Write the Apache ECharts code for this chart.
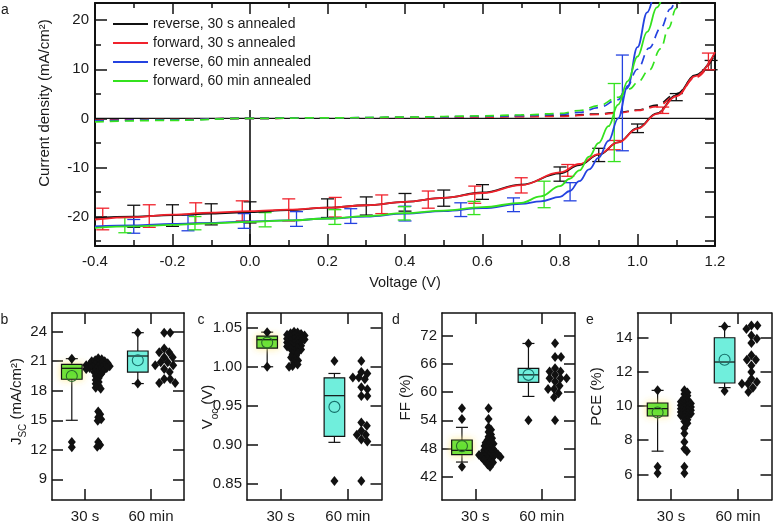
<!DOCTYPE html>
<html><head><meta charset="utf-8">
<script src="https://cdn.jsdelivr.net/npm/echarts@6/dist/echarts.min.js"></script>
<style>html,body{margin:0;padding:0;background:#fff}#c{width:773px;height:524px}</style>
</head><body><div id="c"></div>
<script>
// ---------- Panel a: J-V curves ----------
const SERIES_NAMES = ['reverse, 30 s annealed','forward, 30 s annealed','reverse, 60 min annealed','forward, 60 min annealed'];
const V_30 = [-0.4,-0.3,-0.2,-0.1,0,0.1,0.2,0.3,0.4,0.5,0.6,0.7,0.8,0.85,0.9,0.95,1.0,1.05,1.1,1.15,1.2];
const J_REV30 = [-20.3,-20.0,-19.7,-19.4,-19.1,-18.7,-18.2,-17.7,-17.0,-16.2,-15.1,-13.5,-11.2,-9.5,-7.4,-4.9,-2.0,1.0,4.7,8.8,13.3];
const J_FWD30 = [-20.6,-20.1,-19.6,-19.2,-18.9,-18.6,-18.2,-17.7,-17.0,-16.2,-15.2,-13.6,-11.0,-9.3,-7.3,-4.9,-2.1,0.9,4.5,8.6,13.5];
const V_REV60 = [-0.4,-0.3,-0.2,-0.1,0,0.1,0.2,0.3,0.4,0.5,0.6,0.7,0.75,0.8,0.825,0.85,0.875,0.9,0.925,0.95,0.975,1.0,1.025,1.045];
const J_REV60 = [-22.0,-21.8,-21.5,-21.3,-21.0,-20.8,-20.4,-20.0,-19.4,-18.9,-18.3,-17.4,-16.9,-16.0,-14.8,-12.8,-10.4,-8.0,-4.6,0.0,6.6,14.5,21.6,27];
const V_FWD60 = [-0.4,-0.3,-0.2,-0.1,0,0.1,0.2,0.3,0.4,0.5,0.6,0.7,0.75,0.8,0.825,0.85,0.875,0.9,0.925,0.95,0.975,1.0,1.025,1.05,1.07];
const J_FWD60 = [-22.3,-22.0,-21.7,-21.4,-21.1,-20.8,-20.4,-19.9,-19.3,-18.8,-18.1,-17.2,-15.9,-13.8,-12.3,-10.6,-7.8,-5.0,-1.6,2.8,7.6,12.6,17.6,22.6,26.6];
// dark (dashed) curves
const VD_30 = [-0.4,-0.2,0,0.2,0.4,0.6,0.7,0.8,0.9,0.95,1.0,1.05,1.1,1.15,1.2];
const JD_REV30 = [-0.3,-0.2,0,0.05,0.15,0.3,0.4,0.5,0.9,1.2,1.7,2.7,5.0,8.5,13.0];
const JD_FWD30 = [-0.4,-0.25,0,0.05,0.15,0.25,0.35,0.4,0.8,1.1,1.6,2.4,4.6,8.3,13.2];
const VD_REV60 = [-0.4,-0.2,0,0.2,0.4,0.6,0.7,0.8,0.85,0.9,0.95,0.97,1.0,1.03,1.06,1.085,1.1];
const JD_REV60 = [-0.5,-0.3,0,0.1,0.2,0.4,0.55,0.8,1.2,2.2,3.8,6.0,10.0,14.3,18.4,22.3,25.0];
const VD_FWD60 = [-0.4,-0.2,0,0.2,0.4,0.6,0.7,0.8,0.85,0.9,0.95,0.98,1.0,1.03,1.06,1.08,1.1,1.12,1.13];
const JD_FWD60 = [-0.7,-0.4,0,0.1,0.25,0.5,0.7,1.0,1.6,2.6,4.3,6.0,7.3,9.8,14.2,18.4,22.4,25.8,27.5];
// error bars
const ERR_REV30_V = [-0.3,-0.2,-0.1,0,0.2,0.3,0.4,0.5,0.6,0.8,0.9,1.0,1.1,1.19];
const ERR_REV30_LO = [-22.2,-22.0,-21.7,-21.3,-20.2,-19.7,-18.9,-17.9,-16.5,-12.8,-8.8,-2.9,3.6,9.9];
const ERR_REV30_HI = [-17.7,-17.6,-17.4,-17.0,-16.4,-16.0,-15.3,-14.6,-13.5,-9.9,-6.1,-1.15,5.05,11.8];
const ERR_FWD30_V = [-0.38,-0.26,-0.14,-0.02,0.10,0.22,0.34,0.46,0.58,0.70,0.82,0.94,1.065,1.183];
const ERR_FWD30_LO = [-22.7,-22.2,-21.4,-20.9,-20.9,-20.1,-19.4,-18.3,-17.3,-15.2,-11.8,-6.4,1.0,9.9];
const ERR_FWD30_HI = [-18.3,-17.6,-17.2,-16.8,-16.4,-16.1,-15.6,-14.8,-13.8,-12.1,-9.4,-4.5,2.3,13.3];
const ERR_REV60_V = [-0.30,-0.16,-0.015,0.12,0.26,0.40,0.544,0.68,0.826,0.961];
const ERR_REV60_LO = [-23.4,-22.9,-22.4,-22.0,-21.4,-20.9,-20.0,-19.0,-16.8,-6.6];
const ERR_REV60_HI = [-20.6,-19.7,-19.4,-19.0,-18.4,-17.9,-17.2,-16.2,-13.1,12.9];
const ERR_FWD60_V = [-0.323,-0.142,0.039,0.219,0.398,0.578,0.759,0.94];
const ERR_FWD60_LO = [-23.3,-22.7,-22.1,-21.6,-20.7,-19.6,-18.2,-8.8];
const ERR_FWD60_HI = [-20.2,-20.0,-19.2,-18.6,-18.0,-16.9,-12.8,7.1];
// reference lines
const ZERO_J = 0;
const ZERO_V = 0;
const ZERO_V_TOP = 1.7;
const A_X_MIN = -0.4, A_X_MAX = 1.2, A_Y_MIN = -26, A_Y_MAX = 23.5;
const A_Y_LABELS = [-20,-10,0,10,20];
const A_Y_MINOR = [-25,-15,-5,5,15];
const A_Y_RIGHT = [-25,-20,-15,-10,-5,0,5,10,15,20];

// ---------- Panels b-e: statistics ----------
const CATEGORIES = ['30 s','60 min'];
const JSC_TICKS = [9,12,15,18,21,24];
const JSC_BOX_30 = [15.0,19.17,20.28,20.69,21.26], JSC_MEAN_30 = 19.5, JSC_MARK_30 = [21.26,12.8,12.25];
const JSC_BOX_60 = [18.73,19.9,21.53,22.04,23.9], JSC_MEAN_60 = 21.1, JSC_MARK_60 = [23.9,18.73];
const JSC_PTS_30 = [21.3,21.2,21.1,21.0,21.0,20.9,20.8,20.8,20.7,20.7,20.6,20.6,20.5,20.5,20.4,20.4,20.3,20.3,20.2,20.2,20.1,20.0,19.9,19.8,19.7,19.5,19.3,19.1,18.9,18.7,18.5,18.3,18.2,15.9,15.6,15.3,15.1,14.95,12.8,12.5,12.3];
const JSC_PTS_60 = [23.9,23.9,22.3,21.9,21.9,21.4,21.4,20.9,20.9,20.6,20.6,20.2,19.9,19.2,19.2,18.8,18.8];
const VOC_TICKS = [0.85,0.90,0.95,1.00,1.05];
const VOC_BOX_30 = [1.000,1.024,1.0347,1.0393,1.0444], VOC_MEAN_30 = 1.031, VOC_MARK_30 = [1.0444,1.000];
const VOC_BOX_60 = [0.903,0.9107,0.9629,0.9858,0.9914], VOC_MEAN_60 = 0.9485, VOC_MARK_60 = [1.0075,0.8533];
const VOC_PTS_30 = [1.045,1.044,1.043,1.042,1.041,1.040,1.040,1.039,1.038,1.037,1.036,1.035,1.035,1.034,1.033,1.032,1.031,1.030,1.029,1.028,1.027,1.026,1.025,1.024,1.023,1.022,1.020,1.018,1.016,1.014,1.012,1.010,1.008,1.005,1.003,1.001,1.000];
const VOC_PTS_60 = [1.0075,0.9934,0.9913,0.9863,0.9863,0.984,0.9736,0.971,0.9625,0.9625,0.9285,0.9243,0.918,0.9128,0.9128,0.9065,0.904,0.8533];
const FF_TICKS = [42,48,54,60,66,72];
const FF_BOX_30 = [45.1,46.7,47.6,49.8,52.5], FF_MEAN_30 = 48.5, FF_MARK_30 = [56.6,54.3,44.1];
const FF_BOX_60 = [59.1,62.1,63.7,65.1,70.4], FF_MEAN_60 = 63.7, FF_MARK_60 = [70.4,54.0];
const FF_PTS_30 = [56.6,54.3,52.5,52.0,51.5,51.0,50.5,50.2,49.8,49.5,49.2,49.0,48.8,48.5,48.2,48.0,47.8,47.6,47.4,47.2,47.0,46.9,46.8,46.7,46.6,46.5,46.4,46.3,46.2,46.1,46.0,45.8,45.5,45.2,45.0,44.6,44.1];
const FF_PTS_60 = [70.45,67.5,67.5,65.1,64.4,64.4,63.7,63.0,63.0,63.0,62.3,61.4,60.7,60.7,59.8,58.9,54.0];
const PCE_TICKS = [6,8,10,12,14];
const PCE_BOX_30 = [7.36,9.42,9.85,10.18,10.92], PCE_MEAN_30 = 9.62, PCE_MARK_30 = [10.92,6.45,6.06];
const PCE_BOX_60 = [11.08,11.35,12.58,14.0,14.66], PCE_MEAN_60 = 12.71, PCE_MARK_60 = [14.66,10.88];
const PCE_PTS_30 = [10.92,10.8,10.7,10.6,10.5,10.4,10.3,10.25,10.2,10.15,10.1,10.05,10.0,9.95,9.9,9.85,9.8,9.75,9.7,9.65,9.6,9.55,9.5,9.45,9.4,9.3,9.2,9.1,9.0,8.7,8.4,7.9,7.5,7.36,6.45,6.06];
const PCE_PTS_60 = [14.72,14.72,14.52,14.13,13.94,13.69,12.97,12.71,12.71,12.38,11.99,11.6,11.41,11.31,11.31,11.08,10.82];

// ---------- layout / style ----------
const FONT = '"Liberation Sans", Arial, Helvetica, sans-serif';
const COLORS = ['#111111','#f0222c','#2442e0','#34e21e'];
const BOX_FILL = ['#5fe030','#70eedc'];
const MEAN_STROKE = ['#2a6a2a','#16706a'];
const TXT = '#1a1a1a';
const POS_CAT = [1,2], BOX_SHIFT = -0.2, PTS_SHIFT = 0.2;

const panels = [
  {grid:{left:52,top:313,width:132,height:188}, min:6.9, max:25.9, ticks:JSC_TICKS, dec:0,
   box:[JSC_BOX_30,JSC_BOX_60], mean:[JSC_MEAN_30,JSC_MEAN_60], mark:[JSC_MARK_30,JSC_MARK_60], pts:[JSC_PTS_30,JSC_PTS_60]},
  {grid:{left:247,top:313,width:134.5,height:188}, min:0.829, max:1.069, ticks:VOC_TICKS, dec:2,
   box:[VOC_BOX_30,VOC_BOX_60], mean:[VOC_MEAN_30,VOC_MEAN_60], mark:[VOC_MARK_30,VOC_MARK_60], pts:[VOC_PTS_30,VOC_PTS_60]},
  {grid:{left:442,top:313,width:133,height:188}, min:37, max:76.9, ticks:FF_TICKS, dec:0,
   box:[FF_BOX_30,FF_BOX_60], mean:[FF_MEAN_30,FF_MEAN_60], mark:[FF_MARK_30,FF_MARK_60], pts:[FF_PTS_30,FF_PTS_60]},
  {grid:{left:637.5,top:313,width:134,height:187.5}, min:4.5, max:15.45, ticks:PCE_TICKS, dec:0,
   box:[PCE_BOX_30,PCE_BOX_60], mean:[PCE_MEAN_30,PCE_MEAN_60], mark:[PCE_MARK_30,PCE_MARK_60], pts:[PCE_PTS_30,PCE_PTS_60]}
];

function swarm(values, center, yMin, yMax, hPx, wPx, dPx) {
  const py = hPx / (yMax - yMin), pxPerUnit = wPx / 2;
  const placed = [];
  return values.map(v => {
    const y = v * py;
    let off = 0;
    for (let k = 0; k < 400; k++) {
      const o = (k % 2 === 1 ? 1 : -1) * Math.ceil(k / 2) * 0.5;
      if (placed.every(p => (p.x - o) ** 2 + (p.y - y) ** 2 >= dPx * dPx)) { off = o; break; }
    }
    placed.push({x: off, y});
    return [center + off / pxPerUnit, v];
  });
}

const zipErr = (v, lo, hi) => v.map((x, i) => [x, lo[i], hi[i]]);
const zipXY = (x, y) => x.map((v, i) => [v, y[i]]);

function errRender(color) {
  return function (params, api) {
    const x = api.value(0);
    const p1 = api.coord([x, api.value(1)]), p2 = api.coord([x, api.value(2)]);
    const w = 6.5, st = {stroke: color, lineWidth: 1.3};
    return {type: 'group', children: [
      {type: 'line', shape: {x1: p1[0], y1: p1[1], x2: p2[0], y2: p2[1]}, style: st},
      {type: 'line', shape: {x1: p1[0] - w, y1: p1[1], x2: p1[0] + w, y2: p1[1]}, style: st},
      {type: 'line', shape: {x1: p2[0] - w, y1: p2[1], x2: p2[0] + w, y2: p2[1]}, style: st}
    ]};
  };
}

function boxRender(params, api) {
  const x = api.value(0);
  const pts = [1, 2, 3, 4, 5].map(i => api.coord([x, api.value(i)]));
  const cx = pts[0][0], hw = 10.3, cw = 6;
  const i = params.dataIndex;
  const st = {stroke: '#111', lineWidth: 1.2};
  const rectStyle = {fill: BOX_FILL[i], stroke: '#111', lineWidth: 1.2};
  if (i === 0) { rectStyle.shadowBlur = 7; rectStyle.shadowColor = 'rgba(255,236,140,0.9)'; }
  return {type: 'group', children: [
    {type: 'line', shape: {x1: cx, y1: pts[0][1], x2: cx, y2: pts[1][1]}, style: st},
    {type: 'line', shape: {x1: cx, y1: pts[3][1], x2: cx, y2: pts[4][1]}, style: st},
    {type: 'line', shape: {x1: cx - cw, y1: pts[0][1], x2: cx + cw, y2: pts[0][1]}, style: st},
    {type: 'line', shape: {x1: cx - cw, y1: pts[4][1], x2: cx + cw, y2: pts[4][1]}, style: st},
    {type: 'rect', shape: {x: cx - hw, y: pts[3][1], width: 2 * hw, height: pts[1][1] - pts[3][1]}, style: rectStyle},
    {type: 'line', shape: {x1: cx - hw, y1: pts[2][1], x2: cx + hw, y2: pts[2][1]}, style: st}
  ]};
}

const fmt1 = v => (Math.abs(v) < 1e-9 ? '0.0' : v.toFixed(1));
const lbl = {color: TXT, fontFamily: FONT, fontSize: 15};
const nameLbl = {color: TXT, fontFamily: FONT, fontSize: 14.5};

const grids = [{left: 95, top: 3, width: 620, height: 243}].concat(panels.map(p => p.grid));
const xAxes = [], yAxes = [], series = [];

// panel a axes
const frameA = {onZero: false, lineStyle: {color: '#111', width: 2}};
xAxes.push({gridIndex: 0, type: 'value', min: A_X_MIN, max: A_X_MAX, interval: 0.2, position: 'bottom',
  axisLine: frameA, axisTick: {inside: true, length: 12, lineStyle: {color: '#111', width: 1.5}},
  minorTick: {show: true, splitNumber: 2, length: 6, lineStyle: {color: '#111', width: 1.5}},
  axisLabel: Object.assign({formatter: fmt1, margin: 8}, lbl), splitLine: {show: false},
  name: 'Voltage (V)', nameLocation: 'middle', nameGap: 29, nameTextStyle: nameLbl});
xAxes.push({gridIndex: 0, type: 'value', min: A_X_MIN, max: A_X_MAX, interval: 0.2, position: 'top',
  axisLine: frameA, axisTick: {inside: true, length: 11, lineStyle: {color: '#111', width: 1.5}},
  minorTick: {show: true, splitNumber: 2, length: 5, lineStyle: {color: '#111', width: 1.5}},
  axisLabel: {show: false}, splitLine: {show: false}});
yAxes.push({gridIndex: 0, type: 'value', min: A_Y_MIN, max: A_Y_MAX, position: 'left',
  axisLine: frameA, axisTick: {inside: true, length: 12, customValues: A_Y_LABELS, lineStyle: {color: '#111', width: 1.5}},
  axisLabel: Object.assign({customValues: A_Y_LABELS, margin: 6}, lbl), splitLine: {show: false}});
yAxes.push({gridIndex: 0, type: 'value', min: A_Y_MIN, max: A_Y_MAX, position: 'left',
  axisLine: {show: false, onZero: false}, axisTick: {inside: true, length: 6, customValues: A_Y_MINOR, lineStyle: {color: '#111', width: 1.5}},
  axisLabel: {show: false}, splitLine: {show: false}});
yAxes.push({gridIndex: 0, type: 'value', min: A_Y_MIN, max: A_Y_MAX, position: 'right',
  axisLine: frameA, axisTick: {inside: true, length: 10, customValues: A_Y_RIGHT, lineStyle: {color: '#111', width: 1.5}},
  axisLabel: {show: false}, splitLine: {show: false}});

// panel a series
series.push({type: 'line', xAxisIndex: 0, yAxisIndex: 0, data: [[A_X_MIN, ZERO_J], [A_X_MAX, ZERO_J]], showSymbol: false, silent: true,
  lineStyle: {color: '#111', width: 1.3}, z: 1});
series.push({type: 'line', xAxisIndex: 0, yAxisIndex: 0, data: [[ZERO_V, A_Y_MIN], [ZERO_V, ZERO_V_TOP]], showSymbol: false, silent: true,
  lineStyle: {color: '#111', width: 1.6}, z: 1});
const solid = [[V_30, J_REV30], [V_30, J_FWD30], [V_REV60, J_REV60], [V_FWD60, J_FWD60]];
const dark = [[VD_30, JD_REV30], [VD_30, JD_FWD30], [VD_REV60, JD_REV60], [VD_FWD60, JD_FWD60]];
const errs = [zipErr(ERR_REV30_V, ERR_REV30_LO, ERR_REV30_HI), zipErr(ERR_FWD30_V, ERR_FWD30_LO, ERR_FWD30_HI),
  zipErr(ERR_REV60_V, ERR_REV60_LO, ERR_REV60_HI), zipErr(ERR_FWD60_V, ERR_FWD60_LO, ERR_FWD60_HI)];
[0, 1, 2, 3].forEach(i => {
  series.push({type: 'line', name: 'dark' + i, xAxisIndex: 0, yAxisIndex: 0, data: zipXY(dark[i][0], dark[i][1]),
    showSymbol: false, smooth: 0.4, smoothMonotone: 'x', clip: true, color: COLORS[i],
    lineStyle: {color: COLORS[i], width: 1.7, type: [9, 6]}, z: 2});
});
[0, 1, 2, 3].forEach(i => {
  series.push({type: 'custom', name: 'err' + i, xAxisIndex: 0, yAxisIndex: 0, data: errs[i], renderItem: errRender(COLORS[i]),
    encode: {x: 0, y: [1, 2]}, z: 3});
});
[0, 1, 2, 3].forEach(i => {
  series.push({type: 'line', name: SERIES_NAMES[i], xAxisIndex: 0, yAxisIndex: 0, data: zipXY(solid[i][0], solid[i][1]),
    showSymbol: false, smooth: 0.4, smoothMonotone: 'x', clip: true, color: COLORS[i],
    lineStyle: {color: COLORS[i], width: 1.8}, z: 4});
});

// panels b-e
const diamondStyle = {color: '#111', opacity: 1, borderWidth: 0};
panels.forEach((p, k) => {
  const g = k + 1, xi = 2 + 2 * k, yi = 3 + 2 * k;
  const frame = {onZero: false, lineStyle: {color: '#111', width: 1.5}};
  const tick = {inside: true, length: 11, lineStyle: {color: '#111', width: 1.5}};
  xAxes.push({gridIndex: g, type: 'value', min: 0.5, max: 2.5, position: 'bottom', axisLine: frame,
    axisTick: Object.assign({customValues: POS_CAT}, tick),
    axisLabel: Object.assign({customValues: POS_CAT, formatter: v => CATEGORIES[Math.round(v) - 1], margin: 9}, lbl),
    splitLine: {show: false}});
  xAxes.push({gridIndex: g, type: 'value', min: 0.5, max: 2.5, position: 'top', axisLine: frame,
    axisTick: Object.assign({customValues: POS_CAT}, tick), axisLabel: {show: false}, splitLine: {show: false}});
  yAxes.push({gridIndex: g, type: 'value', min: p.min, max: p.max, position: 'left', axisLine: frame,
    axisTick: Object.assign({customValues: p.ticks}, tick),
    axisLabel: Object.assign({customValues: p.ticks, formatter: v => v.toFixed(p.dec), margin: 5}, lbl),
    splitLine: {show: false}});
  yAxes.push({gridIndex: g, type: 'value', min: p.min, max: p.max, position: 'right', axisLine: frame,
    axisTick: Object.assign({customValues: p.ticks}, tick), axisLabel: {show: false}, splitLine: {show: false}});

  series.push({type: 'custom', xAxisIndex: xi, yAxisIndex: yi, renderItem: boxRender,
    data: [[POS_CAT[0] + BOX_SHIFT].concat(p.box[0]), [POS_CAT[1] + BOX_SHIFT].concat(p.box[1])],
    encode: {x: 0, y: [1, 5]}, z: 2});
  const markData = [];
  [0, 1].forEach(c => p.mark[c].forEach(v => markData.push([POS_CAT[c] + BOX_SHIFT, v])));
  series.push({type: 'scatter', xAxisIndex: xi, yAxisIndex: yi, data: markData, symbol: 'diamond', symbolSize: [8, 10],
    itemStyle: diamondStyle, z: 3, silent: true});
  [0, 1].forEach(c => {
    series.push({type: 'scatter', xAxisIndex: xi, yAxisIndex: yi, data: [[POS_CAT[c] + BOX_SHIFT, p.mean[c]]],
      symbol: 'circle', symbolSize: 11, itemStyle: {color: 'rgba(0,0,0,0)', opacity: 1, borderColor: MEAN_STROKE[c], borderWidth: 1.1}, z: 4, silent: true});
    const sw = swarm(p.pts[c], POS_CAT[c] + PTS_SHIFT, p.min, p.max, p.grid.height, p.grid.width, c === 0 ? 3.4 : 6);
    series.push({type: 'scatter', xAxisIndex: xi, yAxisIndex: yi, data: sw, symbol: 'diamond', symbolSize: [8, 10],
      itemStyle: diamondStyle, z: 3, silent: true});
  });
});

const rot = Math.PI / 2;
const titleFont = '14px ' + FONT;
const graphic = [
  {type: 'text', x: 5, y: 10, style: {text: 'a', font: titleFont, fill: TXT, align: 'center', verticalAlign: 'middle'}},
  {type: 'text', x: 4.5, y: 320, style: {text: 'b', font: titleFont, fill: TXT, align: 'center', verticalAlign: 'middle'}},
  {type: 'text', x: 201, y: 320, style: {text: 'c', font: titleFont, fill: TXT, align: 'center', verticalAlign: 'middle'}},
  {type: 'text', x: 396, y: 320, style: {text: 'd', font: titleFont, fill: TXT, align: 'center', verticalAlign: 'middle'}},
  {type: 'text', x: 590, y: 320, style: {text: 'e', font: titleFont, fill: TXT, align: 'center', verticalAlign: 'middle'}},
  {type: 'text', x: 45, y: 103, rotation: rot, style: {text: 'Current density (mA/cm²)', font: '15px ' + FONT, fill: TXT, align: 'center', verticalAlign: 'middle'}},
  {type: 'text', x: 16.5, y: 401.5, rotation: rot, style: {text: '{m|J}{s|SC}{m| (mA/cm²)}', fill: TXT, align: 'center', verticalAlign: 'middle',
    rich: {m: {fontSize: 15, fontFamily: FONT, lineHeight: 18}, s: {fontSize: 10, fontFamily: FONT, lineHeight: 12, verticalAlign: 'bottom', padding: [0, 0, -3, 0]}}}},
  {type: 'text', x: 208, y: 407, rotation: rot, style: {text: '{m|V}{s|oc}{m| (V)}', fill: TXT, align: 'center', verticalAlign: 'middle',
    rich: {m: {fontSize: 15, fontFamily: FONT, lineHeight: 18}, s: {fontSize: 10, fontFamily: FONT, lineHeight: 12, verticalAlign: 'bottom', padding: [0, 0, -3, 0]}}}},
  {type: 'text', x: 406, y: 397.5, rotation: rot, style: {text: 'FF (%)', font: '15px ' + FONT, fill: TXT, align: 'center', verticalAlign: 'middle'}},
  {type: 'text', x: 597, y: 396.5, rotation: rot, style: {text: 'PCE (%)', font: '15px ' + FONT, fill: TXT, align: 'center', verticalAlign: 'middle'}}
];

const chart = echarts.init(document.getElementById('c'), null, {renderer: 'canvas'});
chart.setOption({
  animation: false, backgroundColor: '#fff', textStyle: {fontFamily: FONT},
  grid: grids, xAxis: xAxes, yAxis: yAxes, series: series, graphic: graphic,
  legend: {data: SERIES_NAMES, orient: 'vertical', left: 108, top: 11, icon: 'rect', itemWidth: 35, itemHeight: 2,
    itemGap: 3, selectedMode: false, textStyle: {color: TXT, fontFamily: FONT, fontSize: 14, lineHeight: 16, padding: [0, 0, 0, 0]}}
});
</script></body></html>
